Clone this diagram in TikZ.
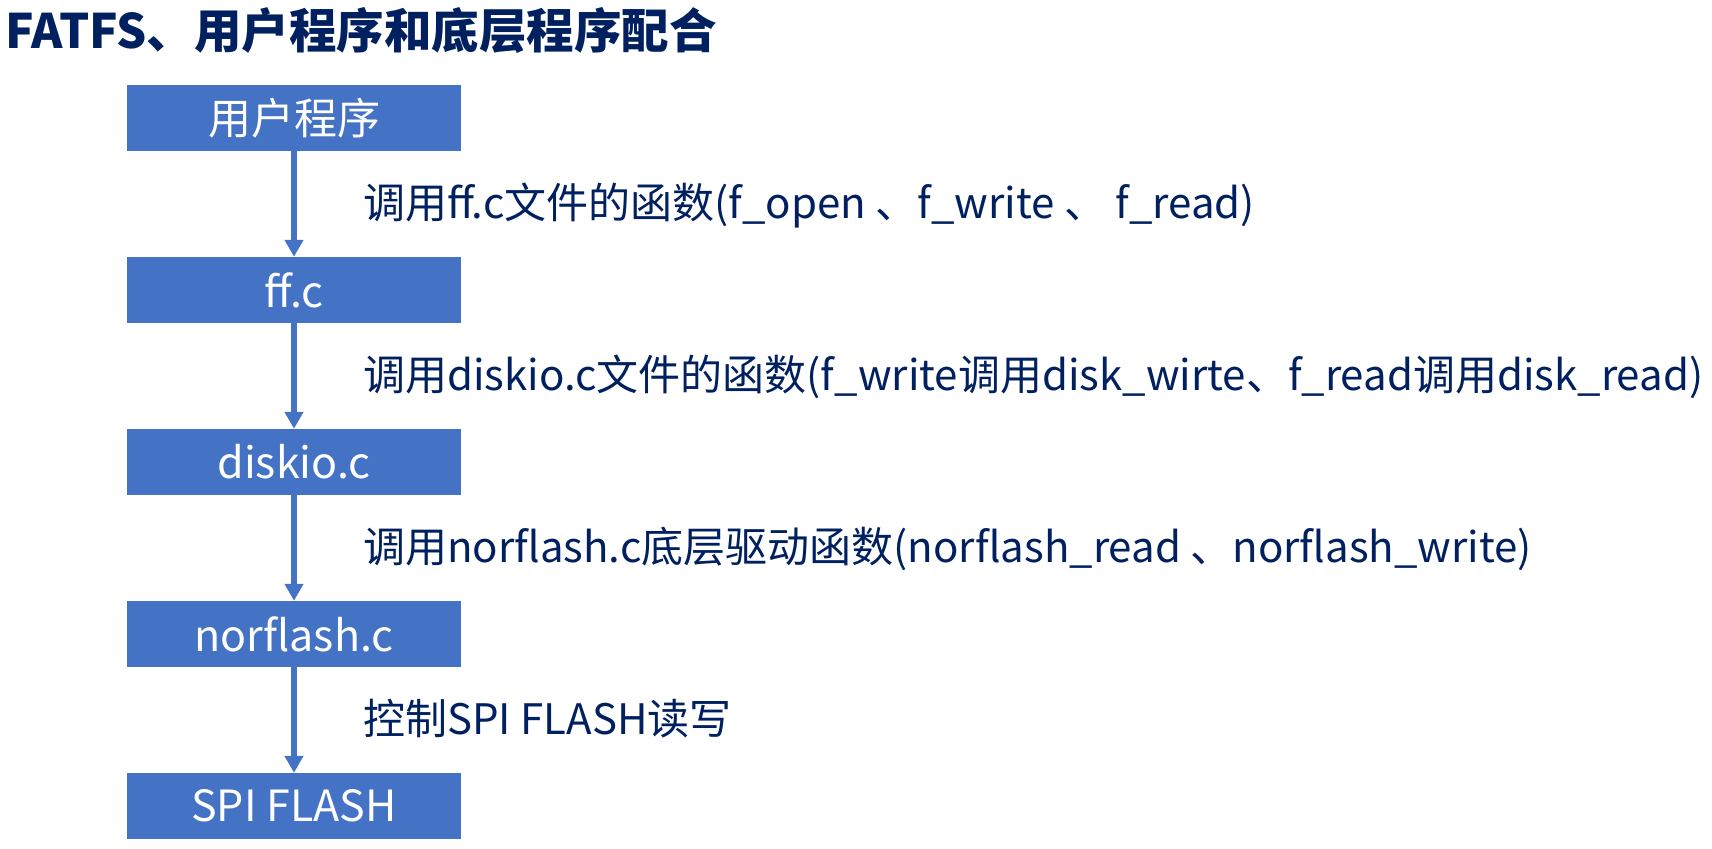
\documentclass[tikz,border=0pt]{standalone}
\usepackage{fontspec}
\setmainfont{Noto Sans CJK SC}
\usepackage{xcolor}
\usetikzlibrary{arrows.meta}
\definecolor{layerblue}{HTML}{4472C4}
\definecolor{darknavy}{HTML}{002060}

\begin{document}
\begin{tikzpicture}[x=1pt,y=1pt,
  layer/.style={fill=layerblue,text=white,minimum width=334pt,minimum height=66pt,inner sep=0pt,font=\fontsize{43}{50}\selectfont},
  callnote/.style={anchor=west,text=darknavy,inner sep=0pt,font=\fontsize{42}{50}\selectfont},
  flow/.style={draw=layerblue,line width=5.5pt,-{Triangle[length=17pt,width=18pt]}}]
\useasboundingbox (0,0) rectangle (1712,848);
\node [anchor=west,text=darknavy,inner sep=0pt,font=\bfseries\fontsize{47.5}{54}\selectfont] (title) at (5,817) {FATFS、用户程序和底层程序配合};
\node [layer] (user) at (294,730) {用户程序};
\node [layer] (ffc) at (294,558) {ff.c};
\node [layer] (diskio) at (294,386) {diskio.c};
\node [layer] (norflash) at (294,214) {norflash.c};
\node [layer] (spiflash) at (294,42) {SPI FLASH};
\draw [flow] (user) -- (ffc);
\draw [flow] (ffc) -- (diskio);
\draw [flow] (diskio) -- (norflash);
\draw [flow] (norflash) -- (spiflash);
\node [callnote] (call1) at (363,642) {调用ff.c文件的函数(f\_open 、f\_write 、 f\_read)};
\node [callnote] (call2) at (363,471) {调用diskio.c文件的函数(f\_write调用disk\_wirte、f\_read调用disk\_read)};
\node [callnote] (call3) at (363,299) {调用norflash.c底层驱动函数(norflash\_read 、norflash\_write)};
\node [callnote] (call4) at (363,129) {控制SPI FLASH读写};
\end{tikzpicture}
\end{document}
